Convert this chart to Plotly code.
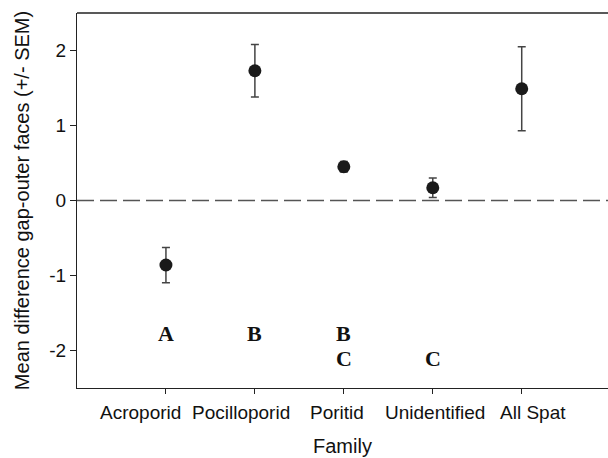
import plotly.graph_objects as go

families = ["Acroporid", "Pocilloporid", "Poritid", "Unidentified", "All Spat"]
means = [-0.86, 1.73, 0.45, 0.17, 1.49]
sems = [0.235, 0.35, 0.07, 0.13, 0.56]

y_ticks = [-2, -1, 0, 1, 2]
y_ticktext = ["-2", "-1", "0", "1", "2"]

letter_x = [0, 1, 2, 2, 3]
letter_y = [-1.77, -1.77, -1.77, -2.11, -2.11]
letter_text = ["A", "B", "B", "C", "C"]

# horizontal pixel offsets of the category labels relative to their ticks (as in the original)
label_shift = [-25, -14, -7, 2, 11]

xpos = list(range(len(families)))

fig = go.Figure()
fig.add_trace(go.Scatter(
    x=xpos, y=means, mode="markers",
    marker=dict(size=13, color="#1a1a1a"),
    error_y=dict(type="data", array=sems, visible=True, color="#444444",
                 thickness=1.5, width=4),
    showlegend=False,
))

fig.add_shape(type="line", xref="x", yref="y", x0=-1, x1=5, y0=0, y1=0,
              line=dict(color="#555555", width=1.3, dash="17px,6px"), layer="below")

for lx, ly, lt in zip(letter_x, letter_y, letter_text):
    fig.add_annotation(x=lx, y=ly, xref="x", yref="y", text="<b>%s</b>" % lt,
                       showarrow=False,
                       font=dict(family="Liberation Serif", size=22, color="#111111"))

for xp, name, sh in zip(xpos, families, label_shift):
    fig.add_annotation(x=xp, y=0, xref="x", yref="paper", text=name,
                       showarrow=False, xanchor="center", yanchor="top",
                       xshift=sh, yshift=-12,
                       font=dict(family="Liberation Sans", size=19, color="#111111"))

fig.update_layout(
    width=608, height=458,
    margin=dict(l=77, r=0, t=13, b=70),
    plot_bgcolor="white", paper_bgcolor="white",
    font=dict(family="Liberation Sans", color="#111111"),
)
fig.update_xaxes(
    range=[-1, 4.97], tickvals=xpos, ticktext=families, showticklabels=False,
    automargin=False,
    showgrid=False, zeroline=False, showline=True, linecolor="#222222", linewidth=1.3,
    mirror=False, ticks="outside", ticklen=5, tickcolor="#222222",
)
fig.add_annotation(x=0.5, y=0, xref="paper", yref="paper", text="Family",
                   showarrow=False, xanchor="center", yanchor="top", yshift=-45,
                   font=dict(family="Liberation Sans", size=20, color="#111111"))
fig.update_yaxes(
    range=[-2.5, 2.5], tickvals=y_ticks, ticktext=y_ticktext,
    automargin=False,
    showgrid=False, zeroline=False, showline=True, linecolor="#222222", linewidth=1.3,
    ticks="outside", ticklen=6, tickcolor="#222222",
    tickfont=dict(size=19),
    title=dict(text="Mean difference gap-outer faces (+/- SEM)", font=dict(size=20), standoff=14),
)
fig.add_shape(type="line", xref="paper", yref="paper", x0=0, x1=1, y0=1, y1=1,
              line=dict(color="#222222", width=1.3))

fig.write_html("out.html")
